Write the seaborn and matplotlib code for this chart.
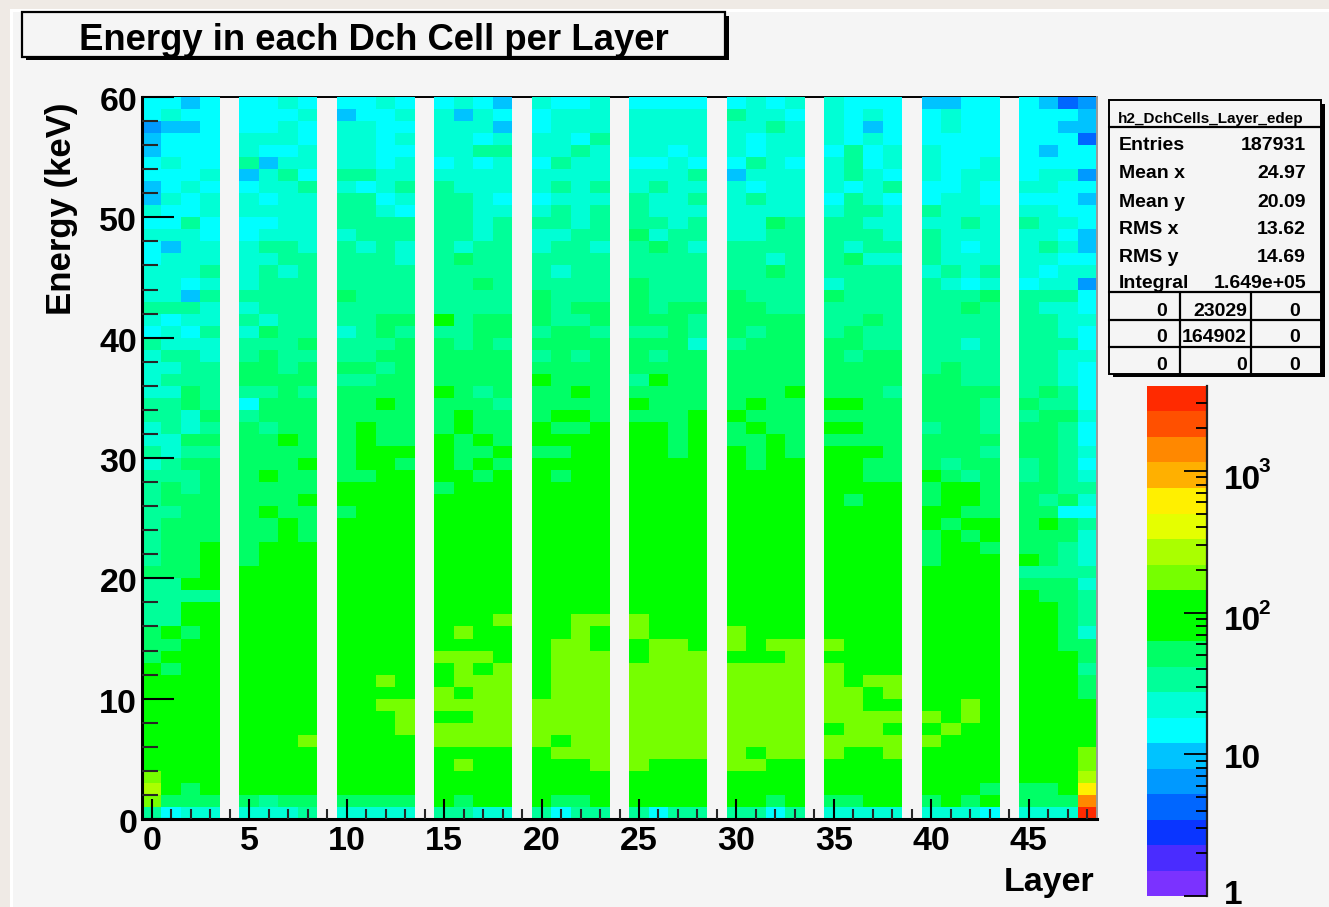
import numpy as np
import pandas as pd
import matplotlib
matplotlib.use('Agg')
import matplotlib.pyplot as plt
import seaborn as sns
from matplotlib.colors import ListedColormap, LogNorm
from matplotlib.lines import Line2D
from matplotlib.patches import Rectangle
from matplotlib.ticker import FixedLocator
from matplotlib.transforms import ScaledTranslation

# bin contents per layer block, one code per cell, top row (59-60 keV) first
rows_top_down = [
    'ccbc cctc cctc ctcb tcct cccc ctct tccc bbcc cbed',
    'ctcc ccct bcct tbtc cttt tttt mttc tctc ctcc cccb',
    'dbbc cctc ttcc tttb cttt tttt ttmt tcbc ctcc ccbb',
    'bccc tttc ttct ttct ttcm tttt tctt tctc cccc ccce',
    'bccc tcct ttcc ttmm ttmt ttct tctt cmct tccc cbcc',
    'ctcc mbtt ttct ctct cmtt cctc cmtc tmct tcct cccc',
    'ccct btmc mmtt tttt tttt tttm bttt tmtc tctt cttd',
    'bctc cttm tctm mttt tmtm tmtt tctt tctm cctc ttcc',
    'btct tctt mmct mmtc cttt mttm tmtt cmtc cttc cccb',
    'tcct tttt mmtc mmtt tmtm mttt tttt tmmt mttt ttcc',
    'ccmc cctt mmmm mmtm mmtm mmtm ttgm mmtt ttmt mttc',
    'tttc cttt tmmm mmtm ttmm gtmm ttmm mmmt mttt ttcb',
    'cbtt tmmt mtmt mtmm tmmt mgmt mmmm mtmm mtct tmtb',
    'cttt ttmm mmmt mgmm mmmm mmmm mmtm mgtt mttt ttcc',
    'tttm tmtm mmmm mmmm mtmm mmmm mmgm mmmm tmtm tctt',
    'ttct tmmm mmmm mmgm mmmm gmmm mmmm tmmm mtct cttd',
    'ttbm mmmm gmmm mmmm gmmm gmmm gmmm gmmm mmmg mmmc',
    'mmmt tmmm mmmm mmmm gmgg gmgg ggmm mmmm mmgm mttc',
    'tctt mtmm mmgg Lmgg gmmg gggm gggg mmgm mmmm mmtt',
    'ctcm tgmm tmgm mmgg mggm mmgm gmgg mgmm mmmm mmtc',
    'mttt mmmg mmmg gmgm gggg gggt mggg ggmm mmtm mmmc',
    'tmmt mgmm mmgg gggg mgmg gmgg gggg gmgg mmmm mmtt',
    'ttmm ggmg ggmg gggg gggg gggg gggg gggg mgmm mmtc',
    'tmmm gggg mmgg gggg Lggg mLgg gggg gggg ggmm mmtc',
    'ttgm mmgm gggg Lgmg ggLg gggg gggL gggm gggg mgmc',
    'mmgm cggg ggLg gggm gggg Lggg gLgg LLgg gggm gmmc',
    'mmtg mggg gggg gLgg gLLg gggL Lggg gggg gggm mggt',
    'tmtm gmgg gLgg gLgg LggL LLgL gLgg LLgg mggm ggmc',
    'ttgg ggLg gLgg LgLg LLLL LLgL ggLg gggg gggg ggmc',
    'mtmm gggg gLLL LggL ggLL LLgL LgLg LLLg gggm ggmt',
    'tmgg gggL gLLg LgLg LLLL LLLL LgLL LLgg gmgg mgmc',
    'mmmg gLgg ggLL LLgL LgLL LLLL LLLL LLgg Lgmg mgmt',
    'mgmg gggg LLLL gLLL LLLL LLLL LLLL LLLL gLLg ggmm',
    'mggg gggL LLLL LLLL LLLL LLLL LLLL LgLL gLLg gmgt',
    'mmgg gLgg gLLL LLLL LLLL LLLL LLLL LLLL LLgg ggcc',
    'mggg ggLg LLLL LLLL LLLL LLLL LLLL LLLL LgLL gLgm',
    'mggg ggLg LLLL LLLL LLLL LLLL LLLL LLLL gLgL gggt',
    'mggL gLLL LLLL LLLL LLLL LLLL LLLL LLLL gLLg ggmt',
    'mggL gLLL LLLL LLLL LLLL LLLL LLLL LLLL gLLL Lgmt',
    'gggL LLLL LLLL LLLL LLLL LLLL LLLL LLLL LLLL mmmm',
    'mmLL LLLL LLLL LLLL LLLL LLLL LLLL LLLL LLLL gggt',
    'mmmm LLLL LLLL LLLL LLLL LLLL LLLL LLLL LLLL Lggm',
    'mmLL LLLL LLLL LLLL LLLL LLLL LLLL LLLL LLLL LLgm',
    'mmLL LLLL LLLL LLLY LLYY YLLL LLLL LLLL LLLL LLgm',
    'gLgL LLLL LLLL LYLL LLYL YLLL YLLL LLLL LLLL LLgt',
    'ggLL LLLL LLLL LLLL LYYL LYYL YLYY YLLL LLLL LLgg',
    'gLLL LLLL LLLL YYYL LYYY LYYY LLLY LLLL LLLL LLLg',
    'LgLL LLLL LLLL LYLY LYYY YYYY YYYY YLLL LLLL LLLm',
    'LLLL LLLL LLYL LYYY LYYY YYYY YYYY YLYY LLLL LLLg',
    'LLLL LLLL LLLL YLYY LYYY YYYY YYYY YYLY LLLL LLLg',
    'LLLL LLLL LLYY YYYY YYYY YYYY YYYY YYLL LLYL LLLL',
    'LLLL LLLL LLLY LLYY YYYY YYYY YYYY YYYY YLYL LLLL',
    'LLLL LLLL LLLY YYYY YYYY YYYY YYYY LYYL LYLL LLLL',
    'LLLL LLLY LLLL YYYY YLYY YYYY YYYY YYYY YLLL LLLL',
    'LLLL LLLL LLLL LLLL LYYY YYYY YLYY YLLY LLLL LLLY',
    'LLLL LLLL LLLL LYLL LLLY YLLL YYLL LLLL LLLL LLLY',
    'YLLL LLLL LLLL LLLL LLLL LLLL LLLL LLLL LLLL LLLz',
    'zLgL LLLL LLLL LLLL LLLL LLLL LLLL LLLL LLLg ggLO',
    'Yggg gmgg gggg LgLL LggL LLLL LLgL ggLL gLgL gggR',
    'mctt tttm tttt mmtt mcmm mcmm mmcm tttt tttc tttX',
]

# estimated counts for each code (middle of its colour band)
code_counts = {'e': 4.2, 'd': 6.5, 'b': 10, 'c': 15, 't': 22, 'm': 35, 'g': 54,
               'L': 100, 'Y': 190, 'z': 300, 'O': 680, 'R': 1550, 'X': 3300}

palette = ['#7b32ff', '#4a2cff', '#0a35ff', '#0066ff', '#0099ff', '#00c3ff', '#00ffff',
           '#00ffd5', '#00ff99', '#00ff66', '#00ff00', '#00ff00', '#76ff00', '#aaff00',
           '#e5ff00', '#fff000', '#ffb000', '#ff8800', '#ff5000', '#ff2a00']

layer_ticks = [0, 5, 10, 15, 20, 25, 30, 35, 40, 45]
energy_ticks = [0, 10, 20, 30, 40, 50, 60]
cbar_ticks = [1, 10, 100, 1000]
cbar_labels = ['1', '10', '10', '10']
stats_names = ['Entries', 'Mean x', 'Mean y', 'RMS x', 'RMS y', 'Integral']
stats_values = ['187931', '24.97', '20.09', '13.62', '14.69', '1.649e+05']
stats_table = [['0', '23029', '0'], ['0', '164902', '0'], ['0', '0', '0']]

W, H = 1329, 907
BG = '#f5f5f5'
FONT = 'Liberation Sans'

sns.set_theme(style='ticks')
plt.rcParams['font.family'] = [FONT, 'DejaVu Sans']
plt.rcParams['font.weight'] = 'bold'

cells = []
for row in rows_top_down:
    # empty layers 4, 9, ... sit between the blocks of four
    line = [code_counts[ch] if ch != ' ' else np.nan for ch in row]
    cells.append(line)
df = pd.DataFrame(cells[::-1], index=np.arange(60), columns=np.arange(49))


def fx(px):
    return px / W


def fy(py):
    return 1 - py / H


def box(x0, y0, x1, y1, **kw):
    fig.add_artist(Rectangle((fx(x0), fy(y1)), (x1 - x0) / W, (y1 - y0) / H,
                             transform=fig.transFigure, **kw))


def seg(x0, y0, x1, y1, lw=1.6):
    fig.add_artist(Line2D([fx(x0), fx(x1)], [fy(y0), fy(y1)], color='black', lw=lw,
                          transform=fig.transFigure))


fig = plt.figure(figsize=(W / 100, H / 100), dpi=100, facecolor=BG)

# slide background around the canvas
box(0, 0, W, 9, color='#efeae5', lw=0, zorder=-3)
box(0, 0, 10, H, color='#efeae5', lw=0, zorder=-3)
box(10, 9, W, 12, color='white', lw=0, zorder=-2)
box(10, 9, 13, H, color='white', lw=0, zorder=-2)

ax = fig.add_axes([fx(142), fy(819), (1097 - 142) / W, (819 - 97) / H], facecolor=BG)
cax = fig.add_axes([fx(1147), fy(896), (1207 - 1147) / W, (896 - 386) / H], facecolor=BG)

sns.heatmap(df, ax=ax, cbar_ax=cax, cmap=ListedColormap(palette),
            norm=LogNorm(vmin=1, vmax=3981), xticklabels=False, yticklabels=False)
ax.set_ylim(0, 60)
ax.set_xlim(0, 49)
ax.set_facecolor(BG)
ax.set_axisbelow(False)

for name, spine in ax.spines.items():
    spine.set_visible(True)
    spine.set_color('black')
    spine.set_linewidth(2.2 if name in ('left', 'bottom') else 1.4)
ax.spines['top'].set_zorder(0.5)
ax.spines['right'].set_color('#999999')

ax.set_xticks(np.array(layer_ticks) + 0.5)
ax.set_xticklabels(layer_ticks)
ax.xaxis.set_minor_locator(FixedLocator(np.arange(49) + 0.5))
ax.set_yticks(energy_ticks)
ax.set_yticklabels(energy_ticks)
ax.yaxis.set_minor_locator(FixedLocator(np.arange(0, 61, 2)))

ax.tick_params(axis='x', which='major', direction='in', length=14.5, width=1.5, pad=5,
               labelsize=24.5, bottom=True, left=False, colors='black')
ax.tick_params(axis='x', which='minor', direction='in', length=7.2, width=1.5, bottom=True)
ax.tick_params(axis='y', which='major', direction='in', length=23, width=1.5, pad=3.5,
               labelsize=24.5, left=True, colors='black')
ax.tick_params(axis='y', which='minor', direction='in', length=11.5, width=1.5, left=True)
nudge = ScaledTranslation(0, -2 / 100, fig.dpi_scale_trans)
for lab in ax.get_yticklabels():
    lab.set_fontweight('bold')
    lab.set_rotation(0)
    lab.set_transform(lab.get_transform() + nudge)
for lab in ax.get_xticklabels():
    lab.set_fontweight('bold')

fig.text(fx(62), fy(209), 'Energy (keV)', rotation=90, ha='center', va='center',
         fontsize=25, fontweight='bold', color='black')
fig.text(fx(1095), fy(883), 'Layer', ha='right', va='center', fontsize=24.5,
         fontweight='bold', color='black')

# colour scale
cax.set_axisbelow(False)
for name, spine in cax.spines.items():
    spine.set_visible(name == 'right')
cax.spines['right'].set_color('#222222')
cax.spines['right'].set_linewidth(1.6)
cax.yaxis.set_ticks_position('right')
cax.set_yscale('log')
cax.set_ylim(1, 3981)
cax.set_yticks(cbar_ticks)
cax.set_yticklabels([])
minor_ticks = [m * d for d in (1, 10, 100, 1000) for m in range(2, 10) if m * d < 3981]
cax.yaxis.set_minor_locator(FixedLocator(minor_ticks))
cax.yaxis.set_minor_formatter(plt.NullFormatter())
cax.set_xticks([])
cax.tick_params(axis='y', which='major', direction='in', length=16.5, width=1.3, colors='black')
cax.tick_params(axis='y', which='minor', direction='in', length=8, width=1.3, colors='black')
for val, txt, dy in zip(cbar_ticks, cbar_labels, [0, -4, -6.5, -6.5]):
    cax.annotate(txt, xy=(1, val), xycoords=('axes fraction', 'data'), xytext=(12, dy),
                 textcoords='offset points', fontsize=24, fontweight='bold', color='black',
                 ha='left', va='center', annotation_clip=False)
for val, txt in [(100, '2'), (1000, '3')]:
    cax.annotate(txt, xy=(1, val), xycoords=('axes fraction', 'data'), xytext=(37, 3),
                 textcoords='offset points', fontsize=15, fontweight='bold', color='black',
                 ha='left', va='center', annotation_clip=False)

# title box
box(26, 16, 729, 60, color='black', lw=0, zorder=1)
box(22, 12, 725, 57, facecolor=BG, edgecolor='black', lw=1.6, zorder=2)
fig.text(fx(373.5), fy(41), 'Energy in each Dch Cell per Layer', ha='center', va='center',
         fontsize=26.3, fontweight='bold', color='black', zorder=3)

# statistics box
box(1113, 104, 1325, 377, color='black', lw=0, zorder=1)
box(1109, 100, 1321, 374, facecolor=BG, edgecolor='black', lw=1.4, zorder=2)
seg(1109, 126.5, 1321, 126.5)
for y in (292, 319.5, 347):
    seg(1109, y, 1321, y)
seg(1180, 292, 1180, 374)
seg(1251, 292, 1251, 374)
fig.text(fx(1118), fy(119), 'h2_DchCells_Layer_edep', ha='left', va='center', fontsize=11,
         fontweight='bold', color='black')
for y, name, value in zip([146, 174, 202.5, 230, 257, 284], stats_names, stats_values):
    fig.text(fx(1119), fy(y), name, ha='left', va='center', fontsize=14, fontweight='bold',
             color='black')
    fig.text(fx(1306), fy(y), value, ha='right', va='center', fontsize=14, fontweight='bold',
             color='black')
for y, row in zip([311, 338, 365], stats_table):
    for x, value in zip([1167, 1247, 1300], row):
        fig.text(fx(x), fy(y), value, ha='right', va='center', fontsize=14, fontweight='bold',
                 color='black')

fig.savefig('out.png', dpi=100, facecolor=BG)
